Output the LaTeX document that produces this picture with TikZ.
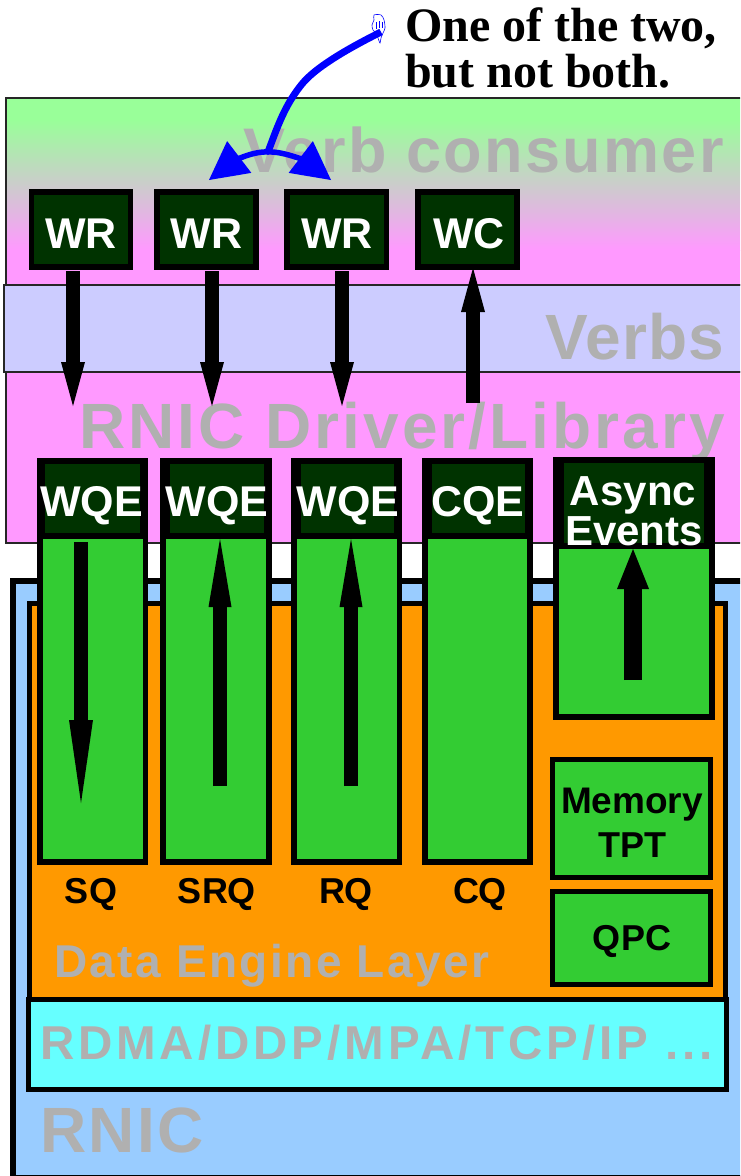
\documentclass[tikz,border=0pt]{standalone}
\usepackage{fontspec}
\setmainfont{Liberation Sans}
\newfontfamily\headfont{Liberation Serif}
\usetikzlibrary{arrows.meta}
\definecolor{cgreen}{HTML}{99FF99}
\definecolor{cpink}{HTML}{FF99FF}
\definecolor{cverb}{HTML}{CCCCFF}
\definecolor{cblue}{HTML}{99CCFF}
\definecolor{corange}{HTML}{FF9900}
\definecolor{ccyan}{HTML}{66FFFF}
\definecolor{cbox}{HTML}{33CC33}
\definecolor{cdark}{HTML}{003300}
\definecolor{cgrey}{HTML}{B0B0B0}
\tikzset{
  plain/.style={inner sep=0pt,outer sep=0pt},
  layer/.style={plain,draw=black!85,line width=2pt},
  grey/.style={plain,anchor=base west,text=cgrey},
  white label/.style={plain,anchor=base,text=white,font=\fontsize{43}{43}\selectfont\bfseries},
  black label/.style={plain,anchor=base,text=black,font=\fontsize{36}{36}\selectfont\bfseries},
  blockarrow/.style={line width=14pt,black,-{Triangle[length=44pt,width=24pt,line width=0pt]}},
  blue stem/.style={line width=7pt,blue},
  blue tip/.style={line width=5.5pt,blue,-{Triangle[length=38pt,width=40pt,line width=0pt]}},
}
% box given by corner coordinates of its drawn path
\newcommand{\rectnode}[6]{%
  \pgfmathsetmacro{\rw}{abs(#5-#3)}\pgfmathsetmacro{\rh}{abs(#6-#4)}%
  \node[plain,#2,minimum width=\rw pt,minimum height=\rh pt] (#1) at ({(#3+#5)/2},{(#4+#6)/2}) {};}
% black frame plus inner fill
\newcommand{\framedbox}[9]{\rectnode{#1o}{fill=black}{#3}{#4}{#5}{#6}\rectnode{#1}{fill=#2}{#7}{#8}{#9}}
\begin{document}
\begin{tikzpicture}[x=1pt,y=-1pt]
\useasboundingbox (0,0) rectangle (740,1176);
\clip (0,0) rectangle (740,1176);
% layers
\fill[cgreen] (6,98) rectangle (750,120);
\shade[top color=cgreen,bottom color=cpink,shading=axis] (6,120) rectangle (750,250);
\fill[cpink] (6,250) rectangle (750,285);
\rectnode{consumer}{layer}{6}{98}{750}{285}
\rectnode{verbs}{layer,fill=cverb}{4}{285}{750}{372}
\rectnode{driver}{layer,fill=cpink}{6}{372}{750}{543}
\rectnode{rnic}{plain,draw=black,line width=6pt,fill=cblue}{13}{581}{760}{1177.5}
\rectnode{engine}{draw=black,line width=5pt,fill=corange}{29.5}{603}{725.5}{1000}
\rectnode{proto}{draw=black,line width=5pt,fill=ccyan}{28.5}{999.5}{726.5}{1089}
% grey layer titles
\node[grey,font=\fontsize{63}{63}\selectfont\bfseries\addfontfeature{LetterSpace=3.7}] (tconsumer) at (243,172) {Verb consumer};
\node[grey,font=\fontsize{64}{64}\selectfont\bfseries\addfontfeature{LetterSpace=2}] (tverbs) at (545,359) {Verbs};
\node[grey,font=\fontsize{64}{64}\selectfont\bfseries\addfontfeature{LetterSpace=4.8}] (tdriver) at (79,448) {RNIC Driver/Library};
\node[grey,font=\fontsize{46}{46}\selectfont\bfseries\addfontfeature{LetterSpace=5.3}] (tengine) at (54,977) {Data Engine Layer};
\node[grey,font=\fontsize{47.5}{47.5}\selectfont\bfseries\addfontfeature{LetterSpace=8.3}] (tproto) at (40,1059) {RDMA/DDP/MPA/TCP/IP ...};
\node[grey,font=\fontsize{64}{64}\selectfont\bfseries\addfontfeature{LetterSpace=4}] (trnic) at (40,1152) {RNIC};
% queues
\framedbox{sq}{cbox}{37}{533}{148}{865}{43}{539}{143}{859}
\framedbox{srq}{cbox}{160}{533}{272}{865}{166}{539}{266}{859}
\framedbox{rq}{cbox}{291}{533}{402}{865}{297}{539}{397}{859}
\framedbox{cq}{cbox}{422}{533}{533}{865}{428}{539}{527}{859}
\framedbox{aq}{cbox}{553}{543}{715}{720}{559}{549}{709}{714}
\framedbox{wqea}{cdark}{37}{458}{148}{539}{45}{464}{140}{533}
\framedbox{wqeb}{cdark}{160}{458}{272}{539}{170}{464}{264}{533}
\framedbox{wqec}{cdark}{291}{458}{402}{539}{301}{464}{394}{533}
\framedbox{cqe}{cdark}{422}{458}{533}{539}{432}{464}{525}{533}
\framedbox{async}{cdark}{553}{457}{715}{549}{564}{463}{704}{543}
\framedbox{mem}{cbox}{550}{757}{713}{880}{555}{762}{708}{875}
\framedbox{qpc}{cbox}{550}{889}{713}{987}{555}{894}{708}{982}
% work requests
\framedbox{wra}{cdark}{29}{189}{133}{270}{34}{195}{128}{264}
\framedbox{wrb}{cdark}{154}{189}{259}{270}{160}{195}{253}{264}
\framedbox{wrc}{cdark}{284}{189}{389}{270}{290}{195}{384}{264}
\framedbox{wc}{cdark}{415}{189}{520}{270}{421}{195}{514}{264}
% named arrow ends
\coordinate (a1s) at (73,271);  \coordinate (a1e) at (73,406);
\coordinate (a2s) at (212,271); \coordinate (a2e) at (212,406);
\coordinate (a3s) at (342,271); \coordinate (a3e) at (342,406);
\coordinate (a4s) at (473,403); \coordinate (a4e) at (473,268);
\coordinate (b1s) at (81,542);  \coordinate (b1e) at (81,803);
\coordinate (b2s) at (220,786); \coordinate (b2e) at (220,539);
\coordinate (b3s) at (351,786); \coordinate (b3e) at (351,539);
\coordinate (b4s) at (633,680); \coordinate (b4e) at (633,549);
% arrows
\draw[blockarrow] (a1s) -- (a1e);
\draw[blockarrow] (a2s) -- (a2e);
\draw[blockarrow] (a3s) -- (a3e);
\draw[blockarrow] (a4s) -- (a4e);
\draw[blockarrow,-{Triangle[length=83pt,width=24pt,line width=0pt]}] (b1s) -- (b1e);
\draw[blockarrow,-{Triangle[length=68pt,width=23pt,line width=0pt]}] (b2s) -- (b2e);
\draw[blockarrow,-{Triangle[length=68pt,width=23pt,line width=0pt]}] (b3s) -- (b3e);
\draw[blockarrow,line width=18pt,-{Triangle[length=40pt,width=32pt,line width=0pt]}] (b4s) -- (b4e);
% labels in boxes
\node[white label] (lwra) at (81,248) {WR};
\node[white label] (lwrb) at (206.5,248) {WR};
\node[white label] (lwrc) at (337,248) {WR};
\node[white label] (lwc) at (469,248) {WC};
\node[white label] (lwqea) at (91.5,516) {WQE};
\node[white label] (lwqeb) at (217,516) {WQE};
\node[white label] (lwqec) at (348,516) {WQE};
\node[white label] (lcqe) at (478,516) {CQE};
\node[white label,font=\fontsize{42}{42}\selectfont\bfseries] (lasynca) at (633,505) {Async};
\node[white label,font=\fontsize{42}{42}\selectfont\bfseries] (lasyncb) at (634,545) {Events};
\node[black label] (lsq) at (91,903) {SQ};
\node[black label] (lsrq) at (217,903) {SRQ};
\node[black label] (lrq) at (346,903) {RQ};
\node[black label] (lcq) at (480,903) {CQ};
\node[black label,font=\fontsize{37}{37}\selectfont\bfseries] (lmem) at (632,813) {Memory};
\node[black label] (ltpt) at (632,857) {TPT};
\node[black label] (lqpc) at (632,950) {QPC};
% heading
\node[plain,anchor=base west,font=\fontsize{48}{48}\selectfont\headfont\bfseries] (heada) at (405,41) {One of the two,};
\node[plain,anchor=base west,font=\fontsize{48}{48}\selectfont\headfont\bfseries] (headb) at (405,87) {but not both.};
% pointer hand
\draw[blue,line width=.6pt] plot[smooth cycle] coordinates {(374,15) (381,15) (384,20) (385,28) (383,33) (381,38) (380,43) (378,38) (376,33) (373,30) (372,25) (374,20)};
\draw[blue,line width=.5pt] (376,22) -- (376,29) (379,21) -- (379,28) (382,22) -- (382,28);
\coordinate (handtip) at (381,32);
\coordinate (fork) at (268,152);
\coordinate (tipl) at (209,180);
\coordinate (tipr) at (331,180);
\draw[blue stem] (handtip) .. controls (345,50) and (315,68) .. (302,84) .. controls (285,105) and (278,125) .. (fork);
\draw[blue tip] (fork) .. controls (250,151) and (230,164) .. (tipl);
\draw[blue tip] (fork) .. controls (286,151) and (310,164) .. (tipr);
\end{tikzpicture}
\end{document}
